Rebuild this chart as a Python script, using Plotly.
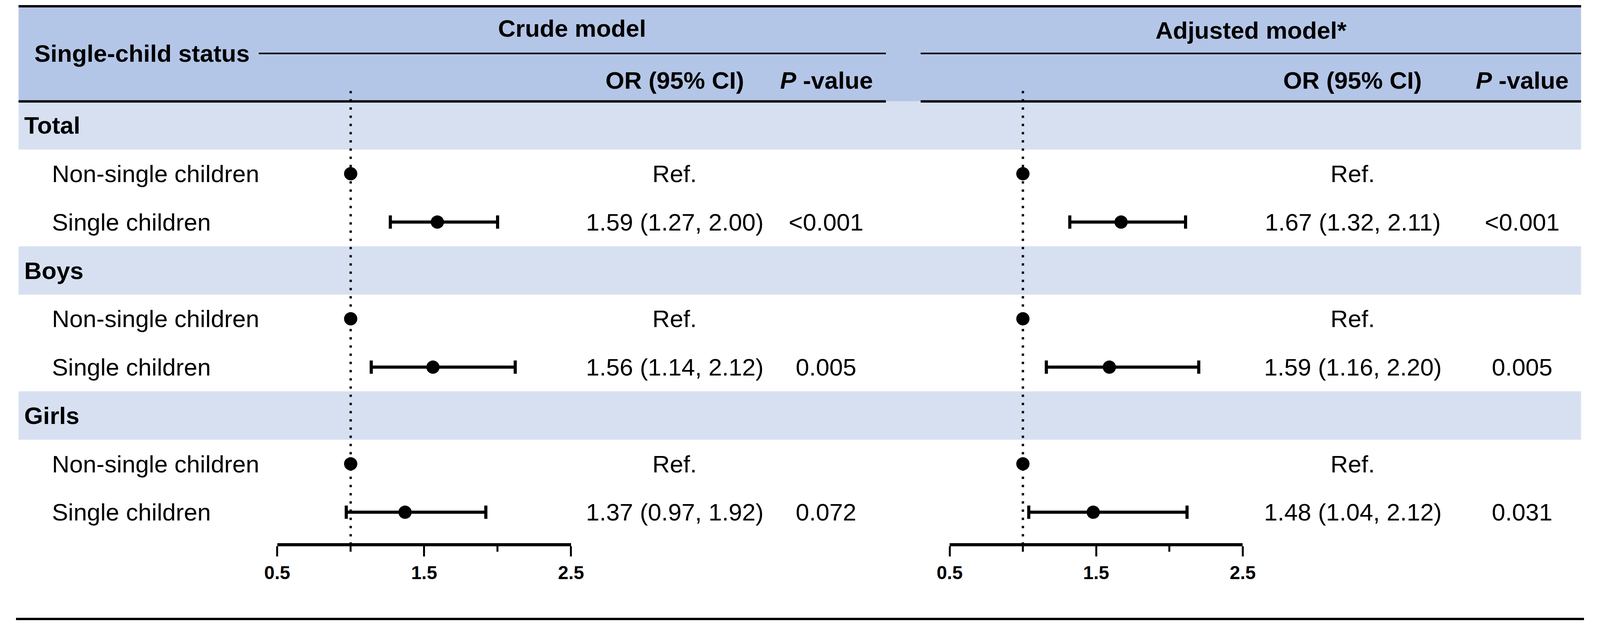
import plotly.graph_objects as go

# reference canvas size, only used to turn measured pixels into paper fractions
W, H = 4328, 1602
FONT = "Arial, Liberation Sans, sans-serif"
FS = 62

groups = ["Total", "Boys", "Girls"]
subgroups = ["Non-single children", "Single children"]

crude_or = [1.59, 1.56, 1.37]
crude_lo = [1.27, 1.14, 0.97]
crude_hi = [2.00, 2.12, 1.92]
crude_p = ["<0.001", "0.005", "0.072"]

adj_or = [1.67, 1.59, 1.48]
adj_lo = [1.32, 1.16, 1.04]
adj_hi = [2.11, 2.20, 2.12]
adj_p = ["<0.001", "0.005", "0.031"]

ref_or = 1.0
axis_ticks = [0.5, 1.5, 2.5]
minor_ticks = [1.0, 2.0]

HEADER_BG = "#b4c6e7"
BAND_BG = "#d7e0f1"


def py(px):
    """pixel row (from top) -> paper y"""
    return 1 - px / H


def pxx(px):
    return px / W


# rows: group header, then the two subgroups
row_y = {}
r = 0
for g in groups:
    row_y[(g, None)] = r
    r += 1
    for s in subgroups:
        row_y[(g, s)] = r
        r += 1

ROW0_PX, ROW_H = 316, 125
y_range = [(H - ROW0_PX) / ROW_H, -ROW0_PX / ROW_H]

fig = go.Figure()

panels = [
    dict(xaxis="x", orv=crude_or, lo=crude_lo, hi=crude_hi, p=crude_p, or_x=1818, p_x=2236),
    dict(xaxis="x2", orv=adj_or, lo=adj_lo, hi=adj_hi, p=adj_p, or_x=3690, p_x=4157),
]

annotations = []
for pnl in panels:
    ref_y = [row_y[(g, subgroups[0])] for g in groups]
    est_y = [row_y[(g, subgroups[1])] for g in groups]
    fig.add_trace(go.Scatter(
        x=[ref_or] * len(groups), y=ref_y, mode="markers", xaxis=pnl["xaxis"], yaxis="y",
        marker=dict(size=34, color="black"), showlegend=False, hoverinfo="skip"))
    fig.add_trace(go.Scatter(
        x=pnl["orv"], y=est_y, mode="markers", xaxis=pnl["xaxis"], yaxis="y",
        marker=dict(size=34, color="black"),
        error_x=dict(type="data", symmetric=False,
                     array=[h - o for h, o in zip(pnl["hi"], pnl["orv"])],
                     arrayminus=[o - l for o, l in zip(pnl["orv"], pnl["lo"])],
                     color="black", thickness=8, width=17),
        showlegend=False, hoverinfo="skip"))
    for i, g in enumerate(groups):
        annotations.append(dict(text="Ref.", x=pxx(pnl["or_x"]), y=ref_y[i]))
        annotations.append(dict(
            text=f"{pnl['orv'][i]:.2f} ({pnl['lo'][i]:.2f}, {pnl['hi'][i]:.2f})",
            x=pxx(pnl["or_x"]), y=est_y[i]))
        annotations.append(dict(text=pnl["p"][i], x=pxx(pnl["p_x"]), y=est_y[i]))

for a in annotations:
    a.update(xref="paper", yref="y", xanchor="center", yanchor="middle", showarrow=False,
             font=dict(family=FONT, size=FS, color="black"))

# row labels
for (g, s), yv in row_y.items():
    if s is None:
        annotations.append(dict(text=f"<b>{g}</b>", x=pxx(21), y=yv, xref="paper", yref="y",
                                xanchor="left", yanchor="middle", showarrow=False,
                                font=dict(family=FONT, size=FS, color="black")))
    else:
        annotations.append(dict(text=s, x=pxx(97), y=yv, xref="paper", yref="y",
                                xanchor="left", yanchor="middle", showarrow=False,
                                font=dict(family=FONT, size=FS, color="black")))

# header texts
hdr = [
    ("<b>Single-child status</b>", 48, 130, "left"),
    ("<b>Crude model</b>", 1535, 65, "center"),
    ("<b>Adjusted model*</b>", 3409, 70, "center"),
    ("<b>OR (95% CI)</b>", 1818, 199, "center"),
    ("<b><i>P</i> -value</b>", 2237, 199, "center"),
    ("<b>OR (95% CI)</b>", 3689, 199, "center"),
    ("<b><i>P</i> -value</b>", 4158, 199, "center"),
]
for t, x, y, anc in hdr:
    annotations.append(dict(text=t, x=pxx(x), y=py(y), xref="paper", yref="paper",
                            xanchor=anc, yanchor="middle", showarrow=False,
                            font=dict(family=FONT, size=FS, color="black")))

shapes = []
# header background and group bands
shapes.append(dict(type="rect", xref="paper", yref="paper", x0=pxx(7), x1=pxx(4320),
                   y0=py(10), y1=py(254), fillcolor=HEADER_BG, line_width=0, layer="below"))
for g in groups:
    yv = row_y[(g, None)]
    shapes.append(dict(type="rect", xref="paper", yref="y", x0=pxx(7), x1=pxx(4320),
                       y0=yv - 0.5, y1=yv + 0.5, fillcolor=BAND_BG, line_width=0, layer="below"))


def hline(x0, x1, y, w):
    shapes.append(dict(type="line", xref="paper", yref="paper", x0=pxx(x0), x1=pxx(x1),
                       y0=py(y), y1=py(y), line=dict(color="black", width=w), layer="below"))


hline(7, 4320, 8, 6)
hline(670, 2401, 130, 4)
hline(2497, 4320, 130, 4)
hline(7, 2401, 254, 6)
hline(2497, 4320, 254, 6)
hline(0, W, 1592, 6)

# reference line at OR = 1
for xr in ["x", "x2"]:
    shapes.append(dict(type="line", xref=xr, yref="paper", x0=ref_or, x1=ref_or,
                       y0=py(227), y1=py(1398),
                       line=dict(color="black", width=6, dash="6px,15px"), layer="below"))

axis_common = dict(
    range=[0.5, 2.5], anchor="free", position=py(1400),
    showline=True, linewidth=8, linecolor="black",
    ticks="outside", ticklen=26, tickwidth=5, tickcolor="black",
    tickvals=axis_ticks, ticktext=[f"<b>{v}</b>" for v in axis_ticks],
    tickfont=dict(family=FONT, size=48, color="black"),
    minor=dict(tickvals=minor_ticks, ticks="outside", ticklen=14, tickwidth=5, tickcolor="black"),
    showgrid=False, zeroline=False, fixedrange=True,
)

# no fixed width/height: the figure fills the browser window
fig.update_layout(
    autosize=True,
    margin=dict(l=0, r=0, t=0, b=0),
    paper_bgcolor="white", plot_bgcolor="white",
    xaxis=dict(domain=[pxx(721), pxx(1532)], **axis_common),
    xaxis2=dict(domain=[pxx(2577), pxx(3386)], **axis_common),
    yaxis=dict(domain=[0, 1], range=y_range, visible=False, fixedrange=True),
    shapes=shapes,
    annotations=annotations,
    showlegend=False,
)

fig.write_html("out.html")
